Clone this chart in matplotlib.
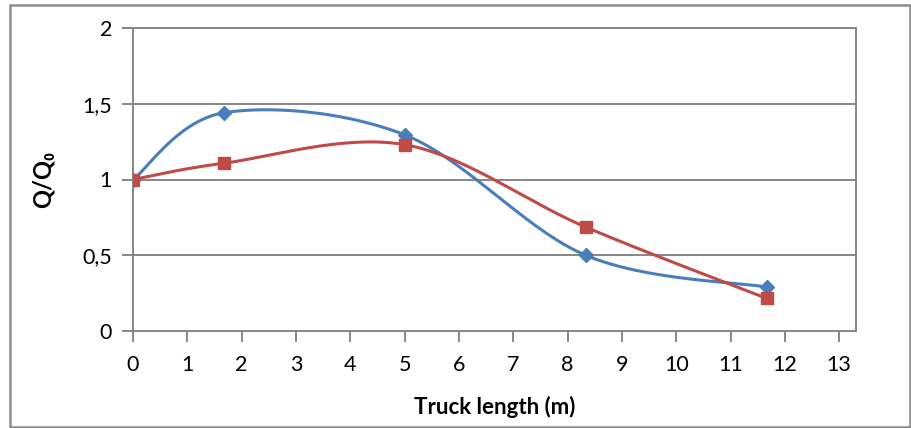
import numpy as np
import matplotlib
matplotlib.use("Agg")
import matplotlib.pyplot as plt
from matplotlib.patches import Rectangle

# Data
truck_length = [0, 1.667, 5.0, 8.333, 11.667]
series_blue = [1.0, 1.44, 1.295, 0.50, 0.29]
series_red = [1.0, 1.107, 1.23, 0.686, 0.215]
x_ticks = list(range(0, 14))
y_ticks = [0, 0.5, 1.0, 1.5, 2.0]
y_tick_labels = ["0", "0,5", "1", "1,5", "2"]

plt.rcParams['font.family'] = ['Lato', 'DejaVu Sans']

def excel_smooth(xs, ys, n=60):
    P = np.column_stack([xs, ys]).astype(float)
    m = len(P)
    out = []
    for i in range(m - 1):
        p0 = P[max(i - 1, 0)]
        p1 = P[i]
        p2 = P[i + 1]
        p3 = P[min(i + 2, m - 1)]
        c1 = p1 + (p2 - p0) / 6.0
        c2 = p2 - (p3 - p1) / 6.0
        t = np.linspace(0, 1, n)[:, None]
        seg = ((1 - t) ** 3) * p1 + 3 * ((1 - t) ** 2) * t * c1 + 3 * (1 - t) * t ** 2 * c2 + t ** 3 * p2
        out.append(seg if i == 0 else seg[1:])
    seg = np.vstack(out)
    return seg[:, 0], seg[:, 1]

W, H = 911, 428
fig = plt.figure(figsize=(W / 100, H / 100), dpi=100)
fig.patch.set_facecolor('white')

ax = fig.add_axes([133 / W, 1 - 331 / H, (856 - 133) / W, (331 - 28) / H])

grid_c = '#868686'
ax.set_xlim(0, 13.31)
ax.set_ylim(0, 2)
ax.set_yticks(y_ticks)
ax.set_yticklabels(y_tick_labels)
ax.set_xticks(x_ticks)
ax.set_xticklabels([str(v) for v in x_ticks])
ax.yaxis.grid(True, color=grid_c, linewidth=1.4)
ax.set_axisbelow(True)
for s in ['left', 'bottom', 'right', 'top']:
    ax.spines[s].set_color(grid_c)
    ax.spines[s].set_linewidth(1.4)
ax.tick_params(axis='both', colors=grid_c, length=8, width=1.4, labelcolor='black', labelsize=15.5)
ax.tick_params(axis='x', pad=9)
ax.tick_params(axis='y', pad=7)

blue = '#4A7EBB'
red = '#BE4B48'
bx, by = excel_smooth(truck_length, series_blue)
ax.plot(bx, by, color=blue, lw=2.2, solid_capstyle='round', zorder=3)
ax.plot(truck_length, series_blue, linestyle='none', marker='D', markersize=7, color=blue, zorder=4)
rx, ry = excel_smooth(truck_length, series_red)
ax.plot(rx, ry, color=red, lw=2.2, solid_capstyle='round', zorder=5)
ax.plot(truck_length, series_red, linestyle='none', marker='s', markersize=8, color=red, zorder=6)

ax.set_xlabel('Truck length (m)', fontsize=16, fontweight='bold', labelpad=15)
ax.set_ylabel('Q/Q\u2080', fontsize=17, fontweight='bold', labelpad=20)

fig.patches.append(Rectangle((10 / W, 1 / H), 900 / W, 422 / H, transform=fig.transFigure,
                             fill=False, edgecolor='#8C8C8C', linewidth=1.8))

fig.savefig('out.png', dpi=100)
